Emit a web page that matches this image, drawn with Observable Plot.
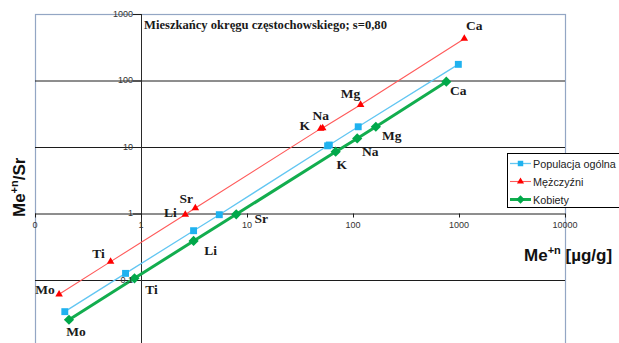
<!DOCTYPE html>
<html><head><meta charset="utf-8">
<script src="https://cdn.jsdelivr.net/npm/d3@7"></script>
<script src="https://cdn.jsdelivr.net/npm/@observablehq/plot@0.6"></script>
<style>
html,body{margin:0;padding:0;overflow:hidden;background:#fff;}
#wrap{position:relative;width:619px;height:343px;overflow:hidden;}
#wrap svg.plot{position:absolute;left:0;top:0;}
#legend{position:absolute;left:507px;top:153px;}
</style></head><body><div id="wrap"></div>
<script>
// ---- data ----
const elements = ["Mo","Ti","Li","Sr","K","Na","Mg","Ca"];
const popX = [0.189, 0.707, 3.10, 5.42, 57, 59.1, 110.8, 975];
const popY = [0.034, 0.128, 0.561, 0.976, 10.6, 10.9, 20.5, 178];
const menX = [0.167, 0.511, 2.59, 3.22, 49, 51.2, 116.7, 1110];
const menY = [0.062, 0.192, 0.98, 1.23, 19.2, 19.6, 44, 433];
const womX = [0.207, 0.859, 3.10, 7.83, 67.9, 108.4, 162.5, 751];
const womY = [0.0257, 0.108, 0.393, 0.99, 8.65, 13.7, 20.5, 97.6];
const seriesNames = ["Populacja ogólna", "Mężczyźni", "Kobiety"];
const xTicks = [0.1, 1, 10, 100, 1000, 10000];
const xTickLabels = ["0", "1", "10", "100", "1000", "10000"];
const yTicks = [0.1, 1, 10, 100, 1000];
const yTickLabels = ["0.1", "1", "10", "100", "1000"];
const gridY = [0.1, 1, 10, 100];
const titleText = "Mieszkańcy okręgu częstochowskiego; s=0,80";

const rows = (xs, ys) => elements.map((el, i) => ({el, x: xs[i], y: ys[i]}));
const pop = rows(popX, popY), men = rows(menX, menY), wom = rows(womX, womY);

// label offsets (px) per element
const menOff = {Mo:[-14,-5], Ti:[-12,-8], Li:[-15,-2], Sr:[-9,-9], K:[-16,-3], Na:[-2,-12], Mg:[-10,-11], Ca:[10,-13]};
const womOff = {Mo:[7,12], Ti:[17,11], Li:[17,10], Sr:[25,4], K:[6,13], Na:[13,13], Mg:[16,9], Ca:[12,9]};

const labelStyle = {fontFamily:'"Liberation Serif","Times New Roman",serif', fontWeight:"bold", fontSize:13.5, fill:"#1a1a1a"};
const labelMarks = [];
men.forEach(d => {
  labelMarks.push(Plot.text([d], {x:"x", y:"y", text:"el", dx: menOff[d.el][0], dy: menOff[d.el][1], ...labelStyle}));
});
wom.forEach(d => {
  labelMarks.push(Plot.text([d], {x:"x", y:"y", text:"el", dx: womOff[d.el][0], dy: womOff[d.el][1], ...labelStyle}));
});

const blue = "#1fb2ef", blueLine = "#62c6f2";
const red = "#ff0000", redLine = "#ff5a5a";
const green = "#00a84a", greenLine = "#12ad4e";

const plot = Plot.plot({
  width: 619, height: 350,
  marginLeft: 35, marginRight: 54, marginTop: 14, marginBottom: 3.5,
  x: {type: "log", domain: [0.1, 10000], axis: null},
  y: {type: "log", domain: [0.01, 1000], axis: null},
  style: {fontFamily: '"Liberation Sans", Arial, sans-serif', background: "transparent", overflow: "visible"},
  marks: [
    Plot.frame({stroke: "#93a6c4", strokeWidth: 1.2}),
    Plot.ruleY(gridY, {stroke: "#1c1c1c", strokeWidth: 1}),
    Plot.ruleX([1], {stroke: "#2a2a2a", strokeWidth: 1}),
    Plot.ruleX(xTicks, {x: d => d, y1: 1, y2: 0.87, stroke: "#1c1c1c"}),
    Plot.ruleY(yTicks, {y: d => d, x1: 0.84, x2: 1, stroke: "#1c1c1c"}),
    Plot.line(men, {x: "x", y: "y", stroke: redLine, strokeWidth: 1.1}),
    Plot.line(pop, {x: "x", y: "y", stroke: blueLine, strokeWidth: 1.3}),
    Plot.line(wom, {x: "x", y: "y", stroke: greenLine, strokeWidth: 3}),
    Plot.dot(men, {x: "x", y: "y", symbol: "triangle", r: 2.8, fill: red, stroke: "none"}),
    Plot.dot(pop, {x: "x", y: "y", symbol: "square", r: 3.9, fill: blue, stroke: "none"}),
    Plot.dot(wom, {x: "x", y: "y", symbol: "diamond2", r: 4.6, fill: green, stroke: "none"}),
    ...labelMarks
  ]
});
plot.classList.add("plot");
const wrap = document.getElementById("wrap");
wrap.appendChild(plot);

const sx = plot.scale("x"), sy = plot.scale("y");
const svg = d3.select(plot);
const tickG = svg.append("g").attr("font-family", '"Liberation Sans",Arial,sans-serif')
  .attr("font-size", 9).attr("fill", "#333");
yTicks.forEach((v, i) => {
  tickG.append("text").attr("x", sx.apply(1) - 8).attr("y", sy.apply(v)).attr("dy", "0.32em")
    .attr("text-anchor", "end").text(yTickLabels[i]);
});
xTicks.forEach((v, i) => {
  tickG.append("text").attr("x", sx.apply(v)).attr("y", sy.apply(1) + 12).attr("dy", "0.32em")
    .attr("text-anchor", "middle").text(xTickLabels[i]);
});
// chart title inside plot
svg.append("text").attr("x", 144).attr("y", 29).attr("text-anchor", "start")
  .attr("font-family", '"Liberation Serif","Times New Roman",serif')
  .attr("font-weight", "bold").attr("font-size", 12.6).attr("fill", "#1a1a1a")
  .text(titleText);
// x axis title
const xt = svg.append("text").attr("x", 524).attr("y", 261).attr("text-anchor", "start")
  .attr("font-family", '"Liberation Sans",Arial,sans-serif').attr("font-weight", "bold")
  .attr("font-size", 17).attr("fill", "#111");
xt.append("tspan").text("Me");
xt.append("tspan").attr("font-size", 11).attr("dy", -7).text("+n");
xt.append("tspan").attr("dy", 7).text(" [µg/g]");
// y axis title
const yt = svg.append("text").attr("transform", "translate(25,217) rotate(-90)").attr("text-anchor", "start")
  .attr("font-family", '"Liberation Sans",Arial,sans-serif').attr("font-weight", "bold")
  .attr("font-size", 17).attr("fill", "#111");
yt.append("tspan").text("Me");
yt.append("tspan").attr("font-size", 11).attr("dy", -7).text("+n");
yt.append("tspan").attr("dy", 7).text("/Sr");

// legend
const leg = d3.select(wrap).append("svg").attr("id", "legend").attr("width", 112).attr("height", 56);
leg.append("rect").attr("x", 0.5).attr("y", 0.5).attr("width", 130).attr("height", 54)
  .attr("fill", "#fff").attr("stroke", "#000");
const legItems = [
  {name: seriesNames[0], line: blueLine, fill: blue, sym: d3.symbolSquare, size: 30, w: 1.3},
  {name: seriesNames[1], line: redLine, fill: red, sym: d3.symbolTriangle, size: 22, w: 1.1},
  {name: seriesNames[2], line: greenLine, fill: green, sym: d3.symbolDiamond2, size: 45, w: 3}
];
legItems.forEach((it, i) => {
  const cy = 10.5 + i * 18;
  leg.append("line").attr("x1", 3).attr("x2", 24).attr("y1", cy).attr("y2", cy)
    .attr("stroke", it.line).attr("stroke-width", it.w);
  leg.append("path").attr("d", d3.symbol(it.sym, it.size)()).attr("transform", `translate(13.5,${cy})`).attr("fill", it.fill);
  leg.append("text").attr("x", 26).attr("y", cy + 4).attr("font-family", '"Liberation Sans",Arial,sans-serif')
    .attr("font-size", 10.8).attr("fill", "#222").text(it.name);
});
</script>
</body></html>
